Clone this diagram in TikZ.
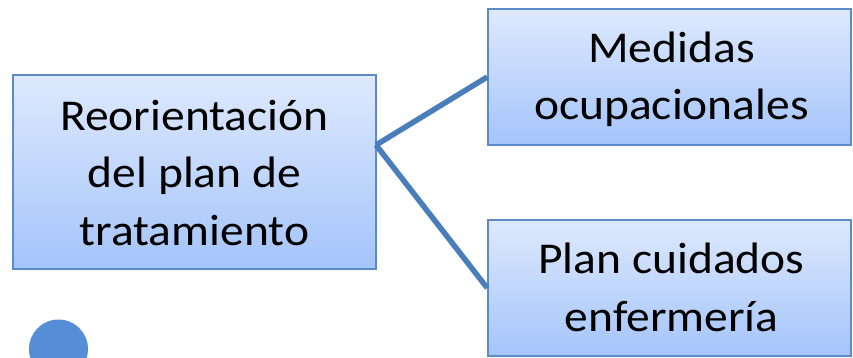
\documentclass[tikz,border=0pt]{standalone}
\usepackage{fontspec}
\setmainfont{Carlito}[FakeStretch=1.08]
\definecolor{boxline}{HTML}{5B8BC8}
\definecolor{boxtop}{HTML}{DEE9FD}
\definecolor{boxbot}{HTML}{A4C4FA}
\definecolor{conn}{HTML}{4A7EBB}
\definecolor{dot}{HTML}{558ED5}
\begin{document}
\begin{tikzpicture}[x=1pt,y=-1pt,
  box/.style={draw=boxline, line width=1.6pt, top color=boxtop, bottom color=boxbot,
    rectangle, inner sep=0pt},
  txt/.style={align=center, inner sep=0pt, anchor=base, font=\fontsize{44}{57.3}\selectfont},
  link/.style={draw=conn, line width=5.5pt}]
\useasboundingbox (0,0) rectangle (853,358);
\node[box, minimum width=363pt, minimum height=194pt] (root) at (194.5,172) {};
\node[box, minimum width=363pt, minimum height=136pt] (a) at (669.5,77) {};
\node[box, minimum width=363pt, minimum height=136pt] (b) at (669.5,288) {};
\node[txt] (roottext) at (194.5,245) {Reorientación\\del plan de\\tratamiento};
\node[txt] (atext) at (671.5,120) {Medidas\\ocupacionales};
\node[txt] (btext) at (671.5,331) {Plan cuidados\\enfermería};
\coordinate (j) at (376,145);
\draw[link] (j) -- (a.west);
\draw[link] (j) -- (b.west);
\fill[dot] (58.5,349) circle (29.5pt);
\end{tikzpicture}
\end{document}
